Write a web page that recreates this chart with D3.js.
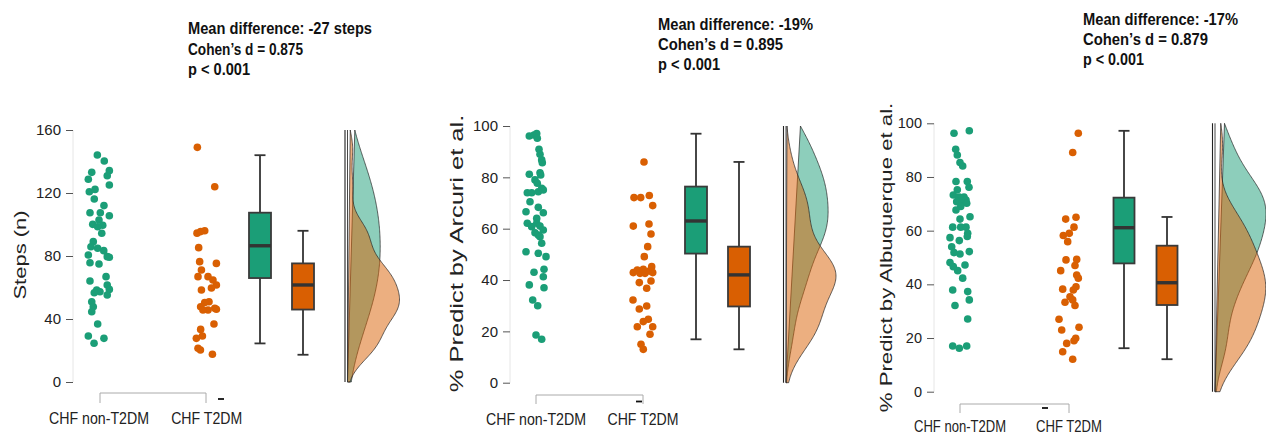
<!DOCTYPE html>
<html><head><meta charset="utf-8">
<script src="https://cdn.jsdelivr.net/npm/d3@7"></script>
<style>body{margin:0;background:#fff}svg{display:block}</style>
</head><body>
<svg id="chart" width="1266" height="435"></svg>
<script>
// ---------------- DATA ----------------
const groups = ["CHF non-T2DM", "CHF T2DM"];
const yTitles = ["Steps (n)", "% Predict by Arcuri et al.", "% Predict by Albuquerque et al."];
const headers = [
  ["Mean difference: -27 steps", "Cohen\u2019s d = 0.875", "p < 0.001"],
  ["Mean difference: -19%", "Cohen\u2019s d = 0.895", "p < 0.001"],
  ["Mean difference: -17%", "Cohen\u2019s d = 0.879", "p < 0.001"]
];
const ticksSteps = [0, 40, 80, 120, 160];
const ticksPct = [0, 20, 40, 60, 80, 100];

const stepsNonT2DM = [144.1,140.3,133.1,134.2,131,128.7,125.1,120.8,122.3,116.2,107.5,112,107.5,105.6,102.9,100.1,99.5,98.6,94.4,89.1,85.9,84.9,83.4,80.6,79.6,79.2,75.7,74.9,66.9,61.6,64.1,58.4,57.3,56.7,58.8,55.2,51,47.8,44.6,36.8,29.2,27.7,24.6];
const stepsNonT2DMJitter = [-0.15,0.48,-0.66,0.94,0.75,-0.97,0.94,-0.88,-0.36,-0.43,-0.82,0.45,0.12,0.94,0,-0.57,0.34,-0.12,0.25,-0.52,-0.73,-0.12,0.43,-0.97,0.75,0.94,-0.82,0,0.64,0.75,-0.82,-0.21,0.09,-0.43,0.94,0.75,-0.66,-0.52,-0.66,-0.12,-0.97,0.45,-0.45];
const stepsT2DM = [149,124,94.5,96,95.5,85.3,76.4,71.1,75.3,66.9,66.9,64.8,61.6,58.4,59.7,51,50.4,47.8,46.8,45.7,45.7,46.2,36.8,33.4,29.2,27.7,21.4,20.3,17.6];
const stepsT2DMJitter = [-0.85,0.73,-0.88,-0.18,-0.55,-0.73,-0.64,-0.48,0.88,-0.79,0.12,0.57,0.88,-0.48,0.43,0.21,-0.18,-0.55,0.73,0.12,-0.34,0.88,0.66,-0.55,-0.39,-0.94,-0.79,-0.57,0.52];

const arcuriNonT2DM = [96.1,96.5,97.1,95.2,90.9,89,86.8,85.7,81.2,81.8,80.9,79,77.7,74,74,74.4,75.7,75.1,70.5,68.3,66.2,66.6,64,62.1,60.8,62.1,61,59.5,58.4,57.5,56.9,54.3,51,50.4,49.1,43,44.2,41.3,38.1,37,32.2,30,18.6,16.9];
const arcuriNonT2DMJitter = [-0.67,-0.2,0.07,0.13,0.3,0.4,0.57,0.63,-0.67,0.4,0.47,-0.1,0.13,-0.87,-0.43,0.23,0.57,0.73,-0.6,0.23,0.73,-1,0.07,-0.87,-0.43,0.07,0.4,0.73,-0.1,0.23,0.4,0.57,-1,0.23,1,-0.2,0.8,0.73,-0.67,0.8,-0.33,0.17,0,0.57];
const arcuriT2DM = [86,72.1,72.1,72.9,69,61,61.8,57.9,53,49.1,42.9,43.9,42.6,42.6,43.5,42.9,45.2,44.2,39,39.6,36.8,32.2,29.9,28.7,24.7,23.8,21.8,21.8,18.9,15,13];
const arcuriT2DMJitter = [0.1,-0.9,-0.23,0.63,0.97,-0.97,0.6,0.8,0.47,0.13,-0.97,-0.57,-0.3,0.2,0.63,0.97,0.87,0.03,-0.37,0.8,0.37,-1,0.37,-0.37,0.53,0.03,-0.57,0.97,0.7,-0.2,0.03];

const albuqNonT2DM = [96.3,97.2,90.3,88.2,85.4,84.1,78.3,78.3,76.2,75.2,73.3,72.5,72.5,71.4,70.8,70.4,70.2,69,67.7,65.2,64.3,61.3,61.3,61.3,59,57.8,57.4,56.3,54,51.8,51.3,52.2,48.1,46.6,45.1,47.2,42.3,37.9,37.3,34.2,32.1,27.1,17,16.2,17];
const albuqNonT2DMJitter = [-0.6,0.93,-0.43,-0.27,0,0.27,-0.4,0.73,0.9,-0.27,-0.67,-0.07,0.4,0.6,-0.33,0.2,0.67,0.07,-0.4,1,0,-0.73,0.07,0.6,0.77,0.73,-1,-0.07,-0.83,-0.6,0,0.93,-1,-0.67,-0.23,0.5,0.27,-0.73,0.77,0.93,-0.5,0.77,-0.73,-0.07,0.67];
const albuqT2DM = [96.3,89.1,64.3,65,58.2,59,61.3,55.9,49.1,49.3,45.1,47,43.5,42.3,38.2,39.1,37.9,35.4,34.2,33.3,32.1,27,24,23,19.9,19,18,14.9,12.1];
const albuqT2DMJitter = [0.93,0.37,-0.33,0.7,-0.57,0.03,0.5,-0.13,-0.3,0.77,-0.83,0.6,0.77,0.93,-0.63,0.7,0.43,0.1,0.37,-0.4,0.6,-1,1,-0.73,0.67,0.5,-0.23,-0.63,0.37];

// box stats: [lower whisker, Q1, median, Q3, upper whisker]
const stepsBoxNon = [24.5, 66, 86.5, 107.5, 144];
const stepsBoxT2 = [17.3, 46, 61.6, 75.3, 96];
const arcuriBoxNon = [16.9, 50.3, 63, 76.4, 97];
const arcuriBoxT2 = [13, 29.7, 42, 53, 86];
const albuqBoxNon = [16.2, 47.8, 61.1, 72.3, 97.2];
const albuqBoxT2 = [12.1, 32.3, 40.6, 54.4, 65.1];

// ---------------- LAYOUT / STYLE ----------------
const colors = ["#1b9e77", "#d95f02"];
const FONT = "Arial, 'Liberation Sans', Helvetica, sans-serif";

const panels = [
  { title: yTitles[0], header: headers[0], ticks: ticksSteps, domain: [0,160], yRange: [382,130],
    axisX: 73, tickLen: 7, tickFont: 15, titleX: 25.5, titleY: 255, titleFont: 22, titleSX: 0.78,
    dotX: [99, 206.7], jit: 11, boxX: [260, 303], boxW: 22, capW: 11,
    densX0: 347.5, densW: 52, bwAdjust: [1.7, 1.0],
    bracket: {x1: 100, x2: 206, y: 393, h: 10}, dash: {x: 218, w: 6, y: 399},
    labelY: 424, labelW: [100, 71], labelFont: 17,
    headX: 188, headY: [34, 55, 75], headW: [184, 115, 62],
    series: [[stepsNonT2DM, stepsNonT2DMJitter, stepsBoxNon], [stepsT2DM, stepsT2DMJitter, stepsBoxT2]] },
  { title: yTitles[1], header: headers[1], ticks: ticksPct, domain: [0,100], yRange: [382.7,126],
    axisX: 510, tickLen: 7, tickFont: 15, titleX: 463, titleY: 253.5, titleFont: 25.5, titleSX: 0.75,
    dotX: [536, 643], jit: 10, boxX: [696, 739], boxW: 22, capW: 11,
    densX0: 786, densW: 50, bwAdjust: [1.0, 1.0],
    bracket: {x1: 536, x2: 643, y: 395, h: 9}, dash: {x: 636, w: 6, y: 401.5},
    labelY: 425, labelW: [100, 71], labelFont: 17,
    headX: 658, headY: [30, 50, 70], headW: [155, 125, 62],
    series: [[arcuriNonT2DM, arcuriNonT2DMJitter, arcuriBoxNon], [arcuriT2DM, arcuriT2DMJitter, arcuriBoxT2]] },
  { title: yTitles[2], header: headers[2], ticks: ticksPct, domain: [0,100], yRange: [391.7,123.3],
    axisX: 934, tickLen: 7, tickFont: 14.5, titleX: 891.5, titleY: 257.5, titleFont: 22.2, titleSX: 0.78,
    dotX: [960, 1069], jit: 10, boxX: [1124, 1167], boxW: 21, capW: 11,
    densX0: 1215, densW: 51, bwAdjust: [1.1, 1.0],
    bracket: {x1: 960, x2: 1069, y: 404, h: 9}, dash: {x: 1042, w: 6, y: 408},
    labelY: 432, labelW: [92, 66], labelFont: 16.5,
    headX: 1083, headY: [25, 45, 65], headW: [155, 125, 61],
    series: [[albuqNonT2DM, albuqNonT2DMJitter, albuqBoxNon], [albuqT2DM, albuqT2DMJitter, albuqBoxT2]] }
];

// ---------------- DRAW ----------------
const svg = d3.select("#chart");
svg.append("rect").attr("width", 1266).attr("height", 435).attr("fill", "#fff");

function bwNrd0(x) {
  const s = x.slice().sort((a, b) => a - b);
  const sd = d3.deviation(s);
  const iqr = d3.quantile(s, 0.75) - d3.quantile(s, 0.25);
  return 0.9 * Math.min(sd, iqr / 1.34) * Math.pow(s.length, -0.2);
}
function kde(values, grid, adjust) {
  const bw = bwNrd0(values) * adjust;
  const k = u => Math.exp(-0.5 * u * u) / Math.sqrt(2 * Math.PI);
  return grid.map(v => [v, d3.mean(values, x => k((v - x) / bw)) / bw]);
}

panels.forEach(p => {
  const g = svg.append("g");
  const y = d3.scaleLinear().domain(p.domain).range(p.yRange);

  // axis line (faint)
  g.append("line").attr("x1", p.axisX).attr("x2", p.axisX)
    .attr("y1", y(p.domain[0])).attr("y2", y(p.domain[1]))
    .attr("stroke", "#e6e6e6").attr("stroke-width", 1);

  // y axis via d3
  const axis = d3.axisLeft(y).tickValues(p.ticks).tickSize(p.tickLen).tickPadding(5);
  const ag = g.append("g").attr("transform", `translate(${p.axisX},0)`).call(axis);
  ag.select(".domain").remove();
  ag.selectAll(".tick line").attr("stroke", "#555").attr("stroke-width", 1);
  ag.selectAll(".tick text").attr("fill", "#222").attr("font-size", p.tickFont).attr("font-family", FONT);

  // y title
  g.append("text")
    .attr("transform", `translate(${p.titleX},${p.titleY}) scale(${p.titleSX},1) rotate(-90)`)
    .attr("text-anchor", "middle").attr("font-family", FONT).attr("font-size", p.titleFont)
    .attr("fill", "#222").text(p.title);

  // header
  p.header.forEach((line, i) => {
    g.append("text").attr("x", p.headX).attr("y", p.headY[i])
      .attr("font-family", FONT).attr("font-weight", "bold").attr("font-size", 16)
      .attr("fill", "#111").attr("textLength", p.headW[i]).attr("lengthAdjust", "spacingAndGlyphs")
      .text(line);
  });

  // densities
  const grid = d3.range(0, 201).map(i => p.domain[0] + (p.domain[1] - p.domain[0]) * i / 200);
  const dens = p.series.map((s, i) => kde(s[0], grid, p.bwAdjust[i]));
  const dMax = d3.max(dens.flat(), d => d[1]);
  const dx = d3.scaleLinear().domain([0, dMax]).range([p.densX0, p.densX0 + p.densW]);
  const area = d3.line().x(d => dx(d[1])).y(d => y(d[0]));
  const top = y(p.domain[1]), bot = y(p.domain[0]);
  g.append("line").attr("x1", p.densX0 - 2.5).attr("x2", p.densX0 - 2.5).attr("y1", top).attr("y2", bot)
    .attr("stroke", "#222").attr("stroke-width", 1.1);
  dens.forEach((d, i) => {
    const pts = [[p.domain[0], 0]].concat(d);
    g.append("path").attr("d", area(pts) + "Z")
      .attr("fill", colors[i]).attr("fill-opacity", 0.5)
      .attr("stroke", "#222").attr("stroke-width", 0.7).attr("stroke-linejoin", "round");
  });
  g.append("line").attr("x1", p.densX0).attr("x2", p.densX0).attr("y1", top).attr("y2", bot)
    .attr("stroke", "#333").attr("stroke-width", 0.9);

  // points
  p.series.forEach((s, i) => {
    const jx = d3.scaleLinear().domain([-1, 1]).range([p.dotX[i] - p.jit, p.dotX[i] + p.jit]);
    g.append("g").selectAll("circle").data(s[0]).join("circle")
      .attr("cx", (v, k) => jx(s[1][k])).attr("cy", v => y(v)).attr("r", 3.8)
      .attr("fill", colors[i]);
  });

  // boxplots
  p.series.forEach((s, i) => {
    const b = s[2], cx = p.boxX[i];
    const bg = g.append("g");
    bg.append("line").attr("x1", cx).attr("x2", cx).attr("y1", y(b[0])).attr("y2", y(b[4]))
      .attr("stroke", "#333").attr("stroke-width", 1.8);
    [b[0], b[4]].forEach(v => bg.append("line").attr("x1", cx - p.capW / 2).attr("x2", cx + p.capW / 2)
      .attr("y1", y(v)).attr("y2", y(v)).attr("stroke", "#333").attr("stroke-width", 1.8));
    bg.append("rect").attr("x", cx - p.boxW / 2).attr("width", p.boxW)
      .attr("y", y(b[3])).attr("height", y(b[1]) - y(b[3]))
      .attr("fill", colors[i]).attr("stroke", "#3a3a3a").attr("stroke-width", 1.8);
    bg.append("line").attr("x1", cx - p.boxW / 2).attr("x2", cx + p.boxW / 2)
      .attr("y1", y(b[2])).attr("y2", y(b[2])).attr("stroke", "#333").attr("stroke-width", 3.4);
  });

  // bottom bracket & labels
  const br = p.bracket;
  g.append("path").attr("d", `M${br.x1},${br.y + br.h}V${br.y}H${br.x2}V${br.y + br.h}`)
    .attr("fill", "none").attr("stroke", "#aaa").attr("stroke-width", 1);
  g.append("line").attr("x1", p.dash.x).attr("x2", p.dash.x + p.dash.w).attr("y1", p.dash.y).attr("y2", p.dash.y)
    .attr("stroke", "#111").attr("stroke-width", 1.8);
  groups.forEach((name, i) => {
    g.append("text").attr("x", p.dotX[i]).attr("y", p.labelY).attr("text-anchor", "middle")
      .attr("font-family", FONT).attr("font-size", p.labelFont).attr("fill", "#222")
      .attr("textLength", p.labelW[i]).attr("lengthAdjust", "spacingAndGlyphs").text(name);
  });
});
</script>
</body></html>
